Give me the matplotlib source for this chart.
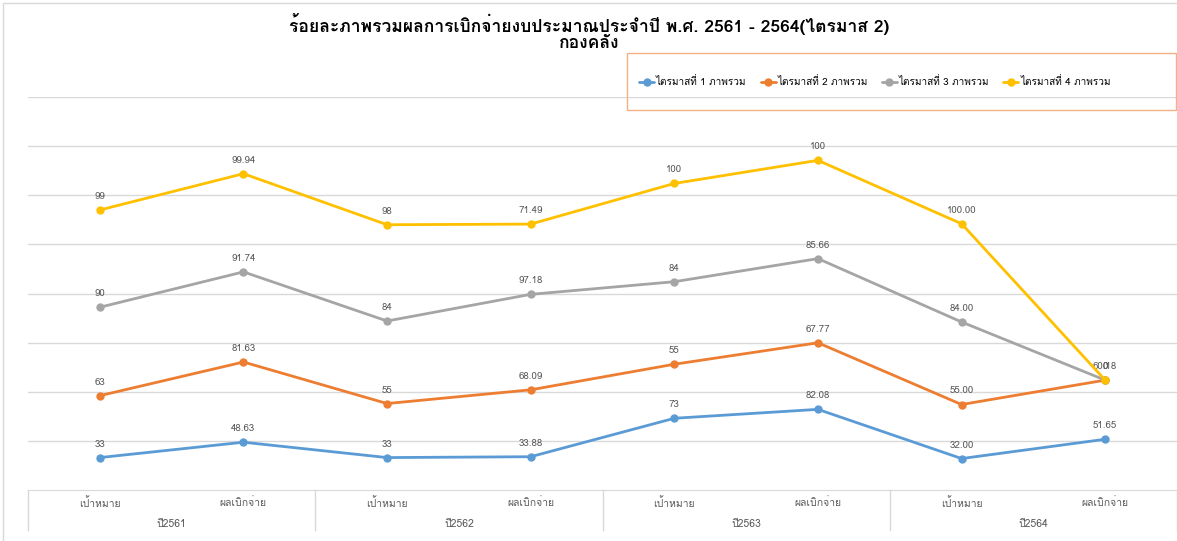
import numpy as np
import matplotlib
matplotlib.use('Agg')
import matplotlib.pyplot as plt
from matplotlib import font_manager
from matplotlib.ft2font import FT2Font
from matplotlib.lines import Line2D
from matplotlib.patches import Rectangle
import matplotlib.transforms as mtransforms

# data (stacked line chart, labels show each quarter's own value)
years = ['ปี2561', 'ปี2562', 'ปี2563', 'ปี2564']
sub_labels = ['เป้าหมาย', 'ผลเบิกจ่าย']
series_names = ['ไตรมาสที่ 1 ภาพรวม', 'ไตรมาสที่ 2 ภาพรวม',
                'ไตรมาสที่ 3 ภาพรวม', 'ไตรมาสที่ 4 ภาพรวม']
q1 = [33, 48.63, 33, 33.88, 73, 82.08, 32.00, 51.65]
q2 = [63, 81.63, 55, 68.09, 55, 67.77, 55.00, 60.18]
q3 = [90, 91.74, 84, 97.18, 84, 85.66, 84.00, 0]
q4 = [99, 99.94, 98, 71.49, 100, 100, 100.00, 0]
q1_labels = ['33', '48.63', '33', '33.88', '73', '82.08', '32.00', '51.65']
q2_labels = ['63', '81.63', '55', '68.09', '55', '67.77', '55.00', '60.18']
q3_labels = ['90', '91.74', '84', '97.18', '84', '85.66', '84.00', '0']
q4_labels = ['99', '99.94', '98', '71.49', '100', '100', '100.00', '0']
colors = ['#5B9BD5', '#ED7D31', '#A5A5A5', '#FFC000']


def find_thai_font(preferred=('Loma', 'Tahoma', 'IBM Plex Sans Thai')):
    # pick an installed family that actually has Thai glyphs
    found = []
    for fe in font_manager.fontManager.ttflist:
        try:
            cmap = FT2Font(fe.fname).get_charmap()
        except Exception:
            continue
        if 0x0E23 in cmap and fe.name not in found:
            found.append(fe.name)
    for name in preferred:
        if name in found:
            return name
    return found[0] if found else 'DejaVu Sans'


thai = find_thai_font()
plt.rcParams['font.family'] = [thai, 'DejaVu Sans']

W, H = 1177, 541
fig = plt.figure(figsize=(W / 100, H / 100), dpi=100)
ax = fig.add_axes([28 / W, 1 - 490 / H, 1 - 28 / W, (490 - 97) / H])

values = np.array([q1, q2, q3, q4])
stacked = np.cumsum(values, axis=0)
labels = [q1_labels, q2_labels, q3_labels, q4_labels]
x = np.arange(len(q1))

for i in range(4):
    ax.plot(x, stacked[i], color=colors[i], lw=2, marker='o', ms=5,
            solid_capstyle='round', zorder=3, label=series_names[i])
    for xi, yi, lab in zip(x, stacked[i], labels[i]):
        ax.annotate(lab, (xi, yi), xytext=(0, 6.5), textcoords='offset points',
                    ha='center', va='bottom', fontsize=7, color='#595959')

ax.set_xlim(-0.5, len(q1) - 0.5)
ax.set_ylim(0, 400)
ax.set_yticks(np.arange(50, 401, 50))
ax.yaxis.grid(True, color='#D9D9D9', lw=1)
ax.set_axisbelow(True)
ax.tick_params(left=False, labelleft=False, bottom=False, labelbottom=False)
for s in ['left', 'right', 'top']:
    ax.spines[s].set_visible(False)
ax.spines['bottom'].set_color('#D9D9D9')

# two-level category axis
trans = mtransforms.blended_transform_factory(ax.transData, ax.transAxes)
lo = -40 / (490 - 97)
for k in range(len(years) + 1):
    ax.add_line(Line2D([2 * k - 0.5] * 2, [0, lo], transform=trans,
                       color='#D9D9D9', lw=1, clip_on=False))
for xi in x:
    ax.text(xi, -13 / 393, sub_labels[xi % 2], transform=trans, ha='center',
            va='center', fontsize=7.5, color='#595959')
for k, yr in enumerate(years):
    ax.text(2 * k + 0.5, -34 / 393, yr, transform=trans, ha='center',
            va='center', fontsize=7.5, color='#595959')

# title
fig.text(589 / W, 1 - 24 / H, 'ร้อยละภาพรวมผลการเบิกจ่ายงบประมาณประจำปี พ.ศ. 2561 - 2564(ไตรมาส 2)',
         ha='center', va='center', fontsize=12.6, fontweight='bold', color='black')
fig.text(589 / W, 1 - 44 / H, 'กองคลัง', ha='center', va='center',
         fontsize=12.6, fontweight='bold', color='black')

# legend with its own box
fig.patches.append(Rectangle((627 / W, 1 - 110 / H), (W - 628) / W, 57 / H,
                             transform=fig.transFigure, fill=False,
                             edgecolor='#F4B183', lw=1))
fig.legend(loc='center', bbox_to_anchor=(875 / W, 1 - 82 / H), ncol=4,
           frameon=False, fontsize=7.2, handlelength=1.5, columnspacing=1.4,
           handletextpad=0.2)

# outer chart border
fig.patches.append(Rectangle((3 / W, -0.01), 1.01, 1 - 3 / H + 0.01,
                             transform=fig.transFigure, fill=False,
                             edgecolor='#D9D9D9', lw=1))

fig.savefig('out.png', dpi=100, facecolor='white')
